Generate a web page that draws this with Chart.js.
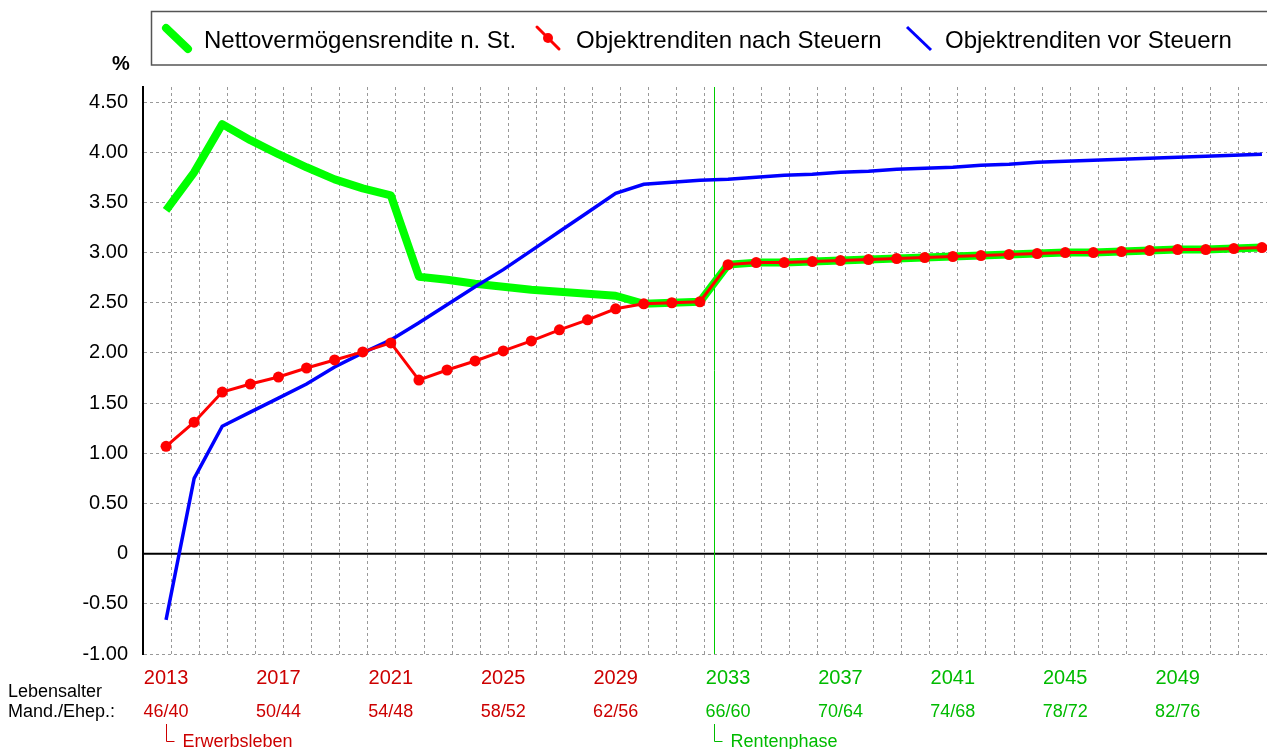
<!DOCTYPE html>
<html>
<head>
<meta charset="utf-8">
<script src="https://cdn.jsdelivr.net/npm/chart.js@4"></script>
<style>
  body { margin: 0; background: #fff; }
  #wrap { width: 1267px; height: 749px; }
</style>
</head>
<body>
<div id="wrap"><canvas id="renditeChart" width="1267" height="749"></canvas></div>
<script>
// Jahre (eine Stuetzstelle pro Jahr)
const years = [2013, 2014, 2015, 2016, 2017, 2018, 2019, 2020, 2021, 2022,
               2023, 2024, 2025, 2026, 2027, 2028, 2029, 2030, 2031, 2032,
               2033, 2034, 2035, 2036, 2037, 2038, 2039, 2040, 2041, 2042,
               2043, 2044, 2045, 2046, 2047, 2048, 2049, 2050, 2051, 2052];

// Nettovermoegensrendite n. St. (gruen)
const nettoRendite = [3.42, 3.80, 4.28, 4.12, 3.98, 3.85, 3.73, 3.64, 3.57, 2.76,
                      2.73, 2.69, 2.66, 2.63, 2.61, 2.59, 2.57, 2.49, 2.50, 2.51,
                      2.88, 2.90, 2.90, 2.91, 2.92, 2.93, 2.94, 2.95, 2.96, 2.97,
                      2.98, 2.99, 3.00, 3.00, 3.01, 3.02, 3.03, 3.03, 3.04, 3.05];

// Objektrenditen nach Steuern (rot)
const objektNach = [1.07, 1.31, 1.61, 1.69, 1.76, 1.85, 1.93, 2.01, 2.10, 1.73,
                    1.83, 1.92, 2.02, 2.12, 2.23, 2.33, 2.44, 2.49, 2.50, 2.51,
                    2.88, 2.90, 2.90, 2.91, 2.92, 2.93, 2.94, 2.95, 2.96, 2.97,
                    2.98, 2.99, 3.00, 3.00, 3.01, 3.02, 3.03, 3.03, 3.04, 3.05];

// Objektrenditen vor Steuern (blau)
const objektVor = [-0.66, 0.75, 1.27, 1.41, 1.55, 1.69, 1.86, 2.00, 2.13, 2.30,
                   2.48, 2.66, 2.83, 3.02, 3.21, 3.40, 3.59, 3.68, 3.70, 3.72,
                   3.73, 3.75, 3.77, 3.78, 3.80, 3.81, 3.83, 3.84, 3.85, 3.87,
                   3.88, 3.90, 3.91, 3.92, 3.93, 3.94, 3.95, 3.96, 3.97, 3.98];

// Achsenbeschriftung unten
const yearLabels = ['2013', '2017', '2021', '2025', '2029', '2033', '2037', '2041', '2045', '2049'];
const ageLabels = ['46/40', '50/44', '54/48', '58/52', '62/56', '66/60', '70/64', '74/68', '78/72', '82/76'];

// Beginn der Rentenphase (zwischen 2032 und 2033)
const rentenBeginn = 2032.5;

const FONT = '"Liberation Sans", Arial, sans-serif';
const RED_TXT = '#cc0000';
const GREEN_TXT = '#00bb00';

function toPoints(values) {
    return years.map((y, i) => ({ x: y, y: values[i] }));
}

const extras = {
    id: 'extras',
    beforeDatasetsDraw(chart) {
        const { ctx, chartArea, scales } = chart;
        ctx.save();
        // Nulllinie
        const y0 = scales.y.getPixelForValue(0);
        ctx.strokeStyle = '#000';
        ctx.lineWidth = 2;
        ctx.beginPath();
        ctx.moveTo(chartArea.left, y0);
        ctx.lineTo(chartArea.right, y0);
        ctx.stroke();
        // Rentenbeginn
        const xr = Math.round(scales.x.getPixelForValue(rentenBeginn)) + 0.5;
        ctx.strokeStyle = '#00cc00';
        ctx.lineWidth = 1;
        ctx.beginPath();
        ctx.moveTo(xr, chartArea.top);
        ctx.lineTo(xr, chartArea.bottom);
        ctx.stroke();
        ctx.restore();
    },
    afterDraw(chart) {
        const { ctx, scales } = chart;
        ctx.save();

        // Legende
        ctx.strokeStyle = '#555';
        ctx.lineWidth = 1.5;
        ctx.strokeRect(151.5, 11.5, 1130, 53.5);
        ctx.lineCap = 'round';
        ctx.strokeStyle = '#00ff00';
        ctx.lineWidth = 8;
        ctx.beginPath(); ctx.moveTo(166, 28); ctx.lineTo(188, 49); ctx.stroke();
        ctx.strokeStyle = '#ff0000';
        ctx.lineWidth = 3;
        ctx.beginPath(); ctx.moveTo(537, 27); ctx.lineTo(559, 49); ctx.stroke();
        ctx.fillStyle = '#ff0000';
        ctx.beginPath(); ctx.arc(548, 38, 5, 0, Math.PI * 2); ctx.fill();
        ctx.strokeStyle = '#0000ff';
        ctx.lineCap = 'butt';
        ctx.beginPath(); ctx.moveTo(907, 27); ctx.lineTo(931, 50); ctx.stroke();

        ctx.fillStyle = '#000';
        ctx.font = '24px ' + FONT;
        ctx.textBaseline = 'alphabetic';
        ctx.textAlign = 'left';
        ctx.fillText(chart.data.datasets[2].label, 204, 48);
        ctx.fillText(chart.data.datasets[0].label, 576, 48);
        ctx.fillText(chart.data.datasets[1].label, 945, 48);

        // Einheit
        ctx.font = 'bold 20px ' + FONT;
        ctx.textAlign = 'center';
        ctx.fillText('%', 121, 70);

        // Jahre und Lebensalter
        yearLabels.forEach((lbl, i) => {
            const yr = Number(lbl);
            const x = scales.x.getPixelForValue(yr);
            ctx.fillStyle = yr < rentenBeginn ? RED_TXT : GREEN_TXT;
            ctx.textAlign = 'center';
            ctx.font = '20px ' + FONT;
            ctx.fillText(lbl, x, 684);
            ctx.font = '18px ' + FONT;
            ctx.fillText(ageLabels[i], x, 717);
        });

        ctx.fillStyle = '#000';
        ctx.textAlign = 'left';
        ctx.font = '18px ' + FONT;
        ctx.fillText('Lebensalter', 8, 697);
        ctx.fillText('Mand./Ehep.:', 8, 717);

        // Phasen
        const phase = (xv, text, color) => {
            const x = Math.round(scales.x.getPixelForValue(xv)) + 0.5;
            ctx.strokeStyle = color;
            ctx.lineWidth = 1;
            ctx.beginPath();
            ctx.moveTo(x, 724);
            ctx.lineTo(x, 741.5);
            ctx.lineTo(x + 8, 741.5);
            ctx.stroke();
            ctx.fillStyle = color;
            ctx.fillText(text, x + 16, 747);
        };
        phase(years[0], 'Erwerbsleben', RED_TXT);
        phase(rentenBeginn, 'Rentenphase', GREEN_TXT);

        ctx.restore();
    }
};

const ctx = document.getElementById('renditeChart').getContext('2d');

new Chart(ctx, {
    type: 'line',
    data: {
        datasets: [{
            label: 'Objektrenditen nach Steuern',
            data: toPoints(objektNach),
            borderColor: '#ff0000',
            backgroundColor: '#ff0000',
            borderWidth: 3,
            pointRadius: 5.5,
            pointBorderWidth: 0,
            pointBackgroundColor: '#ff0000',
            order: 0
        }, {
            label: 'Objektrenditen vor Steuern',
            data: toPoints(objektVor),
            borderColor: '#0000ff',
            borderWidth: 3.5,
            pointRadius: 0,
            order: 1
        }, {
            label: 'Nettovermögensrendite n. St.',
            data: toPoints(nettoRendite),
            borderColor: '#00ff00',
            borderWidth: 8,
            borderJoinStyle: 'round',
            pointRadius: 0,
            order: 2
        }]
    },
    options: {
        responsive: false,
        animation: false,
        layout: { autoPadding: false, padding: { top: 87, left: 0, right: 0, bottom: 0 } },
        plugins: {
            legend: { display: false },
            tooltip: { enabled: false }
        },
        scales: {
            x: {
                type: 'linear',
                min: 2012.18,
                max: 2052.18,
                ticks: { display: false, stepSize: 1, includeBounds: false },
                grid: { color: '#999', lineWidth: 1, drawTicks: false },
                border: { display: false, dash: [3, 3] },
                afterFit: function (scale) { scale.height = 95; }
            },
            y: {
                min: -1,
                max: 4.65,
                ticks: {
                    stepSize: 0.5,
                    includeBounds: false,
                    padding: 15,
                    color: '#000',
                    font: { family: FONT, size: 20 },
                    callback: function (v) { return v === 0 ? '0' : v.toFixed(2); }
                },
                grid: { color: '#999', lineWidth: 1, drawTicks: false },
                border: { display: true, color: '#000', width: 2, dash: [3, 3] },
                afterFit: function (scale) { scale.width = 143; }
            }
        }
    },
    plugins: [extras]
});
</script>
</body>
</html>
